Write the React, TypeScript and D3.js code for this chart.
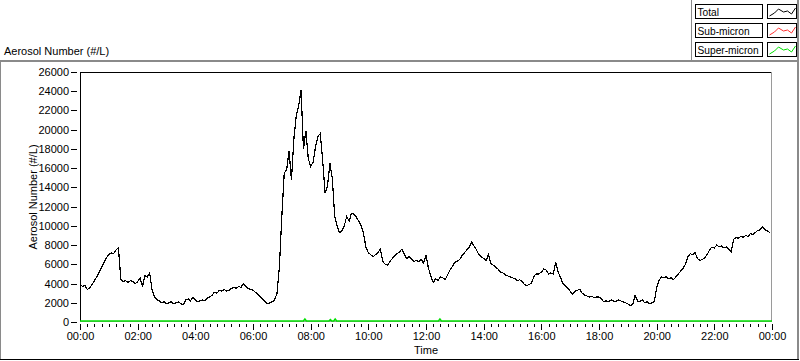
import React, { useEffect, useRef } from 'react'
import * as d3 from 'd3'

// total aerosol number (#/L), one reading every 5 minutes starting 00:00
const total = [
  3900, 3700, 3800, 3400, 3500, 3900, 4300, 4700, 5200, 5700, 6200, 6700,
  7000, 7200, 7100, 7500, 7700, 4400, 4200, 4300, 4100, 4300, 4200, 4000,
  4200, 4600, 3700, 4800, 4700, 5100, 3300, 2600, 2300, 2200, 2000, 2100,
  1900, 2000, 2100, 1900, 2000, 2100, 1900, 1800, 2300, 2400, 2200, 2600,
  2300, 2100, 2200, 2300, 2200, 2500, 2600, 2800, 3100, 3000, 3300, 3200,
  3400, 3200, 3300, 3500, 3600, 3500, 3700, 3600, 4000, 3700, 3500, 3400,
  3300, 3100, 2900, 2600, 2400, 2100, 1900, 2000, 2100, 2300, 3000, 5800,
  11000, 15500, 15800, 17800, 14800, 19000, 21500, 22500, 24100, 18000, 19900, 17000,
  16200, 16600, 18200, 19300, 19600, 16800, 13400, 14100, 16500, 15000, 11000, 10000,
  9300, 9500, 10000, 11000, 10500, 11300, 11200, 10900, 10500, 10000, 9200, 7800,
  7200, 7000, 6800, 7000, 7200, 7600, 6300, 6000, 5900, 6300, 6600, 6900,
  7100, 7300, 7600, 7000, 6600, 6800, 6500, 6300, 6400, 6300, 6500, 6100,
  7000, 5600, 4800, 4100, 4500, 4300, 4700, 4600, 4400, 4900, 5400, 5800,
  6200, 6300, 6500, 6900, 7200, 7500, 7800, 8300, 7900, 7500, 7000, 6800,
  6600, 6400, 7000, 6100, 5900, 5700, 5500, 5200, 5100, 4900, 4800, 4700,
  4600, 4500, 4300, 4400, 4200, 3900, 3800, 3900, 4100, 4800, 5000, 5000,
  5200, 5500, 5400, 5000, 5100, 5000, 6200, 5200, 4600, 4000, 3800, 3500,
  3200, 2900, 3200, 3300, 3400, 3000, 2800, 2700, 2600, 2700, 2500, 2600,
  2600, 2400, 2100, 2200, 2100, 2300, 2200, 2100, 2300, 2200, 2100, 2000,
  1900, 1700, 1800, 2800, 2200, 2100, 2300, 2000, 2100, 1900, 2000, 2100,
  3600, 4300, 4700, 4600, 4700, 4500, 4600, 4400, 4700, 5000, 5300, 5600,
  6000, 6800, 7100, 7000, 7200, 6600, 6400, 6500, 6700, 7000, 7500, 7800,
  7700, 8000, 7800, 7900, 7700, 7800, 7600, 7300, 8600, 8800, 8700, 8900,
  8800, 9000, 8900, 9200, 9100, 9300, 9500, 9600, 9900, 9600, 9500, 9300,
]

// super-micron stays near zero, with a few small blips
const superMinutes = [0, 465, 468, 471, 518, 521, 524, 528, 531, 534, 746, 749, 752, 1440]
const superValues = [100, 100, 300, 100, 100, 250, 100, 100, 300, 100, 100, 300, 100, 100]

const yTickValues = [0, 2000, 4000, 6000, 8000, 10000, 12000, 14000, 16000, 18000, 20000, 22000, 24000, 26000]
const xTickLabels = ['00:00', '02:00', '04:00', '06:00', '08:00', '10:00', '12:00', '14:00', '16:00', '18:00', '20:00', '22:00', '00:00']

const legendNames = ['Total', 'Sub-micron', 'Super-micron']
const legendColors = ['#000000', '#ff3030', '#00e000']

const FONT = '"Liberation Sans", Arial, sans-serif'

const App = () => {
  const ref = useRef<SVGSVGElement>(null)
  const width = 800
  const height = 361
  const plot = { left: 80, top: 72, right: 772, bottom: 322 }

  useEffect(() => {
    const svg = d3.select(ref.current)
    svg.selectAll('*').remove()

    const x = d3.scaleLinear().domain([0, 1440]).range([plot.left, plot.right])
    const y = d3.scaleLinear().domain([0, 26000]).range([plot.bottom, plot.top])

    svg.append('rect').attr('width', width).attr('height', height).attr('fill', '#fff')

    // outer panel frame
    const frame = svg.append('g').attr('fill', 'none').attr('shape-rendering', 'crispEdges')
    frame.append('line').attr('x1', 0).attr('x2', 799).attr('y1', 61).attr('y2', 61)
      .attr('stroke', '#8a8a8a').attr('stroke-width', 2)
    frame.append('line').attr('x1', 0.5).attr('x2', 0.5).attr('y1', 61).attr('y2', 359)
      .attr('stroke', '#8a8a8a')
    frame.append('line').attr('x1', 797.5).attr('x2', 797.5).attr('y1', 0).attr('y2', 359)
      .attr('stroke', '#8a8a8a').attr('stroke-width', 2)
    frame.append('line').attr('x1', 0).attr('x2', 799).attr('y1', 359.5).attr('y2', 359.5)
      .attr('stroke', '#000')
    frame.append('line').attr('x1', 691.5).attr('x2', 691.5).attr('y1', 0).attr('y2', 61)
      .attr('stroke', '#8a8a8a')

    svg.append('text')
      .attr('x', 4).attr('y', 54.5)
      .attr('font-family', FONT).attr('font-size', 11)
      .text('Aerosol Number (#/L)')

    // legend
    const legend = svg.append('g')
    legendNames.forEach((name, i) => {
      const top = 4 + i * 19
      legend.append('rect').attr('x', 695.5).attr('y', top + 0.5).attr('width', 67).attr('height', 14)
        .attr('fill', '#fff').attr('stroke', '#000').attr('shape-rendering', 'crispEdges')
      legend.append('text').attr('x', 697.5).attr('y', top + 11.5)
        .attr('font-family', FONT).attr('font-size', 10.2).text(name)
      legend.append('rect').attr('x', 767.5).attr('y', top + 0.5).attr('width', 29).attr('height', 14)
        .attr('fill', '#fff').attr('stroke', '#000').attr('shape-rendering', 'crispEdges')
      const zig: [number, number][] = [[2, 12], [7, 9], [11, 5], [16, 8], [20, 7], [24, 10], [28, 4]]
      legend.append('path')
        .attr('d', d3.line()(zig.map(([a, b]) => [767.5 + a, top + b])))
        .attr('fill', 'none').attr('stroke', legendColors[i])
    })

    // plot frame
    svg.append('rect').attr('x', plot.left).attr('y', plot.top)
      .attr('width', plot.right - plot.left).attr('height', plot.bottom - plot.top).attr('fill', '#fff')
    svg.append('path')
      .attr('d', `M${plot.left + 0.5},${plot.bottom}V${plot.top + 0.5}H${plot.right}`)
      .attr('fill', 'none').attr('stroke', '#000').attr('shape-rendering', 'crispEdges')
    svg.append('path')
      .attr('d', `M${plot.left},${plot.bottom - 0.5}H${plot.right - 0.5}V${plot.top}`)
      .attr('fill', 'none').attr('stroke', '#9a9a9a').attr('shape-rendering', 'crispEdges')

    // y axis
    const yAxis = svg.append('g')
      .attr('transform', `translate(77,0)`)
      .attr('shape-rendering', 'crispEdges')
      .call(d3.axisLeft(y).tickValues(yTickValues).tickSize(6).tickPadding(2).tickFormat(d3.format('d')))
    yAxis.select('.domain').remove()
    yAxis.selectAll('text').attr('font-family', FONT).attr('font-size', 11).attr('fill', '#000')

    // x axis: minor ticks every 15 min, major every 2 h
    const xMinor = svg.append('g')
      .attr('transform', `translate(0,324)`)
      .attr('shape-rendering', 'crispEdges')
      .call(d3.axisBottom(x).tickValues(d3.range(0, 1441, 15)).tickSize(3).tickFormat(() => ''))
    xMinor.select('.domain').remove()
    const xMajor = svg.append('g')
      .attr('transform', `translate(0,324)`)
      .attr('shape-rendering', 'crispEdges')
      .call(d3.axisBottom(x).tickValues(d3.range(0, 1441, 120)).tickSize(6).tickPadding(2)
        .tickFormat((d, i) => xTickLabels[i]))
    xMajor.select('.domain').remove()
    xMajor.selectAll('text').attr('font-family', FONT).attr('font-size', 11).attr('fill', '#000')

    svg.append('text')
      .attr('x', (plot.left + plot.right) / 2).attr('y', 353.5)
      .attr('text-anchor', 'middle')
      .attr('font-family', FONT).attr('font-size', 11)
      .text('Time')

    svg.append('text')
      .attr('transform', `translate(37,${(plot.top + plot.bottom) / 2}) rotate(-90)`)
      .attr('text-anchor', 'middle')
      .attr('font-family', FONT).attr('font-size', 11)
      .text('Aerosol Number (#/L)')

    // series
    const line = d3.line<number>()
      .x((d, i) => x(i * 5))
      .y(d => y(d))

    const superLine = d3.line<number>()
      .x((d, i) => x(superMinutes[i]))
      .y(d => y(d))

    svg.append('path')
      .datum(superValues)
      .attr('fill', 'none').attr('stroke', legendColors[2]).attr('stroke-width', 1.6)
      .attr('d', superLine)

    // sub-micron sits under the total (super-micron is ~0)
    svg.append('path')
      .datum(total)
      .attr('fill', 'none').attr('stroke', legendColors[1]).attr('stroke-width', 1)
      .attr('shape-rendering', 'crispEdges')
      .attr('d', line)

    svg.append('path')
      .datum(total)
      .attr('fill', 'none').attr('stroke', legendColors[0]).attr('stroke-width', 1.2)
      .attr('shape-rendering', 'crispEdges')
      .attr('d', line)

    return () => { svg.selectAll('*').remove() }
  }, [])

  return (
    <svg ref={ref} width={width} height={height}
      style={{ position: 'absolute', left: 0, top: 0, display: 'block' }} />
  )
}

export default App
